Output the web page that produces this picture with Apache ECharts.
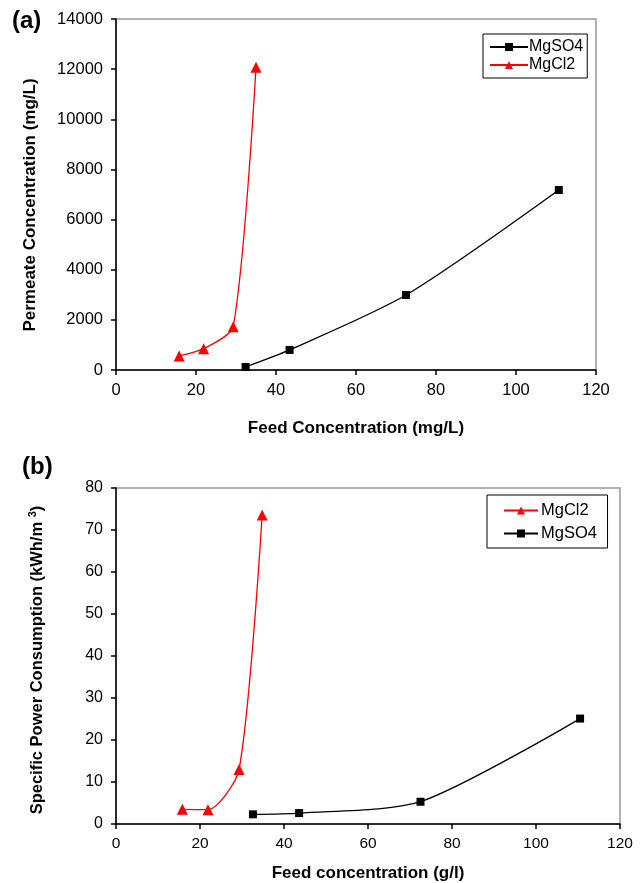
<!DOCTYPE html>
<html><head><meta charset="utf-8">
<script src="https://cdn.jsdelivr.net/npm/echarts@6/dist/echarts.min.js"></script>
<style>html,body{margin:0;padding:0;background:#fff}#c{width:644px;height:883px}</style>
</head><body><div id="c"></div>
<script>
// Chart (a): permeate concentration vs feed concentration
const aMgSO4Feed = [32.4, 43.4, 72.5, 110.7];
const aMgSO4Perm = [120, 800, 2990, 7180];
const aMgCl2Feed = [15.8, 21.9, 29.3, 35.0];
const aMgCl2Perm = [560, 850, 1730, 12080];
// Chart (b): specific power consumption vs feed concentration
const bMgCl2Feed = [15.8, 21.9, 29.3, 34.8];
const bMgCl2Power = [3.5, 3.4, 13.0, 73.6];
const bMgSO4Feed = [32.6, 43.6, 72.5, 110.5];
const bMgSO4Power = [2.3, 2.6, 5.3, 25.1];

const FONT = '"Liberation Sans", Arial, sans-serif';
const zip = (xs, ys) => xs.map((x, i) => [x, ys[i]]);

function xAxis(gi, name, gap, fs) {
  return {
    type: 'value', gridIndex: gi, min: 0, max: 120, interval: 20,
    axisLine: {show: true, lineStyle: {color: '#000', width: 1.5}},
    axisTick: {show: true, length: 5, lineStyle: {color: '#000', width: 1.5}},
    axisLabel: {color: '#000', fontSize: fs, fontFamily: FONT, margin: 12, formatter: v => String(v)},
    splitLine: {show: false},
    name: name, nameLocation: 'middle', nameGap: gap,
    nameTextStyle: {color: '#000', fontSize: 17, fontWeight: 'bold', fontFamily: FONT}
  };
}
function yAxis(gi, min, max, interval, fs) {
  return {
    type: 'value', gridIndex: gi, min: min, max: max, interval: interval,
    axisLine: {show: true, lineStyle: {color: '#000', width: 1.5}},
    axisTick: {show: true, length: 5, lineStyle: {color: '#000', width: 1.5}},
    axisLabel: {color: '#000', fontSize: fs, fontFamily: FONT, margin: 13, formatter: v => String(v)},
    splitLine: {show: false}
  };
}
const lineSeries = (name, data, xi, color, symbol, size) => ({
  name: name, type: 'line', xAxisIndex: xi, yAxisIndex: xi, data: data,
  smooth: 0.25, symbol: symbol, symbolSize: size,
  lineStyle: {color: color, width: 1.3}, itemStyle: {color: color},
  emphasis: {disabled: true}
});

const chart = echarts.init(document.getElementById('c'), null, {renderer: 'canvas'});
chart.setOption({
  animation: false,
  backgroundColor: '#fff',
  grid: [
    {left: 116, top: 19, right: 48, bottom: 513, show: true, borderColor: '#999', borderWidth: 1.5, backgroundColor: 'transparent'},
    {left: 116, top: 488, right: 24, bottom: 59, show: true, borderColor: '#999', borderWidth: 1.5, backgroundColor: 'transparent'}
  ],
  xAxis: [xAxis(0, 'Feed Concentration (mg/L)', 50, 16.5), xAxis(1, 'Feed concentration (g/l)', 41, 15.5)],
  yAxis: [yAxis(0, 0, 14000, 2000, 16.5), yAxis(1, 0, 80, 10, 16)],
  legend: [
    {
      data: ['MgSO4', 'MgCl2'], orient: 'vertical', left: 483, top: 34,
      padding: [5, 4, 5, 6], itemWidth: 38, itemHeight: 10, itemGap: 2,
      borderColor: '#000', borderWidth: 1,
      textStyle: {color: '#000', fontSize: 16, fontFamily: FONT, padding: [0, 0, 0, -4]}
    },
    {
      data: ['MgCl2 ', 'MgSO4 '], orient: 'vertical', left: 487, top: 495,
      padding: [7, 6, 6, 16], itemWidth: 34, itemHeight: 10, itemGap: 6,
      borderColor: '#000', borderWidth: 1,
      textStyle: {color: '#000', fontSize: 16.5, fontFamily: FONT, padding: [0, 0, 0, -2]}
    }
  ],
  series: [
    lineSeries('MgSO4', zip(aMgSO4Feed, aMgSO4Perm), 0, '#000', 'rect', 8),
    lineSeries('MgCl2', zip(aMgCl2Feed, aMgCl2Perm), 0, '#ff0000', 'triangle', 11),
    lineSeries('MgCl2 ', zip(bMgCl2Feed, bMgCl2Power), 1, '#ff0000', 'triangle', 11),
    lineSeries('MgSO4 ', zip(bMgSO4Feed, bMgSO4Power), 1, '#000', 'rect', 8)
  ],
  graphic: [
    {type: 'text', left: 12, top: 9, style: {text: '(a)', fontSize: 24, fontWeight: 'bold', fontFamily: FONT, fill: '#000'}},
    {type: 'text', left: 22, top: 455, style: {text: '(b)', fontSize: 24, fontWeight: 'bold', fontFamily: FONT, fill: '#000'}},
    {type: 'text', x: 30, y: 205, rotation: Math.PI / 2,
     style: {text: 'Permeate Concentration (mg/L)', fontSize: 17, fontWeight: 'bold', fontFamily: FONT, fill: '#000', align: 'center', verticalAlign: 'middle'}},
    {type: 'text', x: 37, y: 660, rotation: Math.PI / 2,
     style: {text: 'Specific Power Consumption (kWh/m {s|3})', fontSize: 16.5, fontWeight: 'bold', fontFamily: FONT, fill: '#000', align: 'center', verticalAlign: 'middle',
       rich: {s: {fontSize: 11, fontWeight: 'bold', fontFamily: FONT, fill: '#000', verticalAlign: 'top', padding: [0, 0, 9, 0]}}}}
  ]
});
</script></body></html>
